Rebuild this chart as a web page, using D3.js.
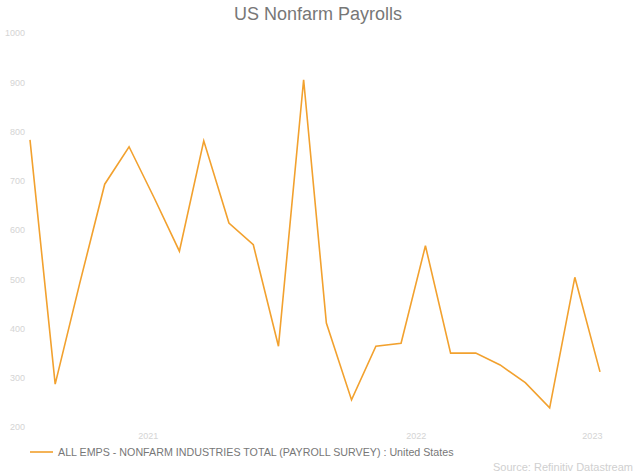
<!DOCTYPE html>
<html>
<head>
<meta charset="utf-8">
<script src="https://cdn.jsdelivr.net/npm/d3@7"></script>
<style>
  body { margin: 0; background: #fff; }
  text { font-family: "Liberation Sans", Arial, sans-serif; }
</style>
</head>
<body>
<div id="chart"></div>
<script>
var svgWidth = 636;
var svgHeight = 473;

// monthly data, Mar 2021 - Feb 2023 (thousands)
var months = ["2021-03", "2021-04", "2021-05", "2021-06", "2021-07", "2021-08",
  "2021-09", "2021-10", "2021-11", "2021-12", "2022-01", "2022-02",
  "2022-03", "2022-04", "2022-05", "2022-06", "2022-07", "2022-08",
  "2022-09", "2022-10", "2022-11", "2022-12", "2023-01", "2023-02"];
var payrolls = [783, 287, 490, 693, 769, 665, 557, 781, 614, 570, 364, 905,
  411, 255, 364, 370, 568, 350, 350, 326, 290, 239, 504, 312];

var yTicks = [200, 300, 400, 500, 600, 700, 800, 900, 1000];
var yearLabels = ["2021", "2022", "2023"];
var yearLabelDates = ["2021-07-24", "2022-06-19", "2023-01-22"];

var seriesName = "ALL EMPS - NONFARM INDUSTRIES TOTAL (PAYROLL SURVEY) : United States";

var margin = { top: 33, right: 36, bottom: 46, left: 30 };
var width = svgWidth - margin.left - margin.right;
var height = svgHeight - margin.top - margin.bottom;

var parseMonth = d3.timeParse("%Y-%m");
var parseDay = d3.timeParse("%Y-%m-%d");

var data = months.map(function(m, i) {
  return { date: parseMonth(m), value: payrolls[i] };
});

var svg = d3.select("#chart")
  .append("svg")
  .attr("width", svgWidth)
  .attr("height", svgHeight);

var chartGroup = svg.append("g")
  .attr("transform", `translate(${margin.left}, ${margin.top})`);

var xTime = d3.scaleTime()
  .domain(d3.extent(data, d => d.date))
  .range([0, width]);

var yLinear = d3.scaleLinear()
  .domain([200, 1000])
  .range([height, 0]);

// title
svg.append("text")
  .attr("x", svgWidth / 2)
  .attr("y", 20)
  .attr("text-anchor", "middle")
  .attr("fill", "#777")
  .style("font-size", "18px")
  .text("US Nonfarm Payrolls");

// y axis labels only
var yAxis = chartGroup.append("g")
  .call(d3.axisLeft(yLinear).tickValues(yTicks).tickFormat(d3.format("d")).tickSize(0).tickPadding(5));
yAxis.select(".domain").remove();
yAxis.selectAll("text")
  .attr("fill", "#d4d4d4")
  .style("font-size", "9px")
  .style("font-family", "Liberation Sans, Arial, sans-serif");

// x axis year labels
var xAxis = chartGroup.append("g")
  .attr("transform", `translate(0, ${height})`)
  .call(d3.axisBottom(xTime)
    .tickValues(yearLabelDates.map(parseDay))
    .tickFormat((d, i) => yearLabels[i])
    .tickSize(0)
    .tickPadding(6));
xAxis.select(".domain").remove();
xAxis.selectAll("text")
  .attr("fill", "#d4d4d4")
  .style("font-size", "9px")
  .style("font-family", "Liberation Sans, Arial, sans-serif");

// line
var line = d3.line()
  .x(d => xTime(d.date))
  .y(d => yLinear(d.value));

chartGroup.append("path")
  .datum(data)
  .attr("fill", "none")
  .attr("stroke", "#f2a12e")
  .attr("stroke-width", 1.6)
  .attr("stroke-linejoin", "miter")
  .attr("d", line);

// legend
var legend = svg.append("g")
  .attr("transform", "translate(30, 452)");
legend.append("line")
  .attr("x1", 0).attr("x2", 23)
  .attr("y1", 0).attr("y2", 0)
  .attr("stroke", "#f2a12e")
  .attr("stroke-width", 1.6);
legend.append("text")
  .attr("x", 28)
  .attr("y", 4)
  .attr("fill", "#777")
  .style("font-size", "10.7px")
  .text(seriesName);

// source
svg.append("text")
  .attr("x", 633)
  .attr("y", 471)
  .attr("text-anchor", "end")
  .attr("fill", "#d0d0d0")
  .style("font-size", "11px")
  .text("Source: Refinitiv Datastream");
</script>
</body>
</html>
